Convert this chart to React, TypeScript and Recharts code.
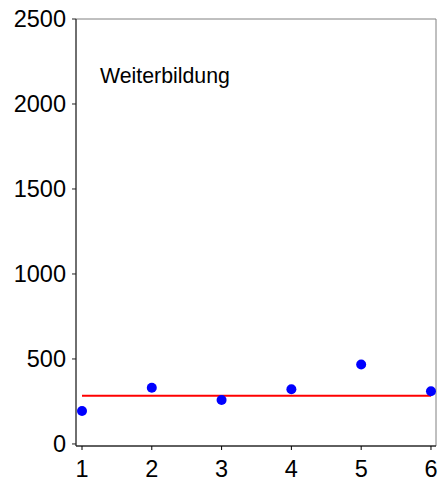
import React from 'react';
import * as Recharts from 'recharts';

const {
    ScatterChart,
    Scatter,
    XAxis,
    YAxis,
    ReferenceLine,
    ReferenceArea
} = Recharts;

// values
const periods = [1, 2, 3, 4, 5, 6];
const values = [194, 331, 259, 322, 467, 310];
const levelValue = 284;
const yTicks = [0, 500, 1000, 1500, 2000, 2500];
const xDomain = [0.914, 6.072];
const yDomain = [-12, 2500];
const panelLabel = 'Weiterbildung';

const points = periods.map((p, i) => ({ x: p, y: values[i] }));

const font = '"Liberation Sans", Arial, sans-serif';

const Dot = (props: any) => {
    const { cx, cy } = props;
    return <circle cx={cx} cy={cy} r={5} fill="#0000ff" />;
};

const App: React.FC = () => {
    return (
        <div style={{ position: 'absolute', left: 0, top: 0, width: 443, height: 481, background: '#fff', fontFamily: font }}>
            <ScatterChart width={443} height={481} margin={{ top: 19, right: 7, bottom: 0, left: 0 }}>
                <ReferenceArea
                    x1={xDomain[0]}
                    x2={xDomain[1]}
                    y1={yDomain[0]}
                    y2={yDomain[1]}
                    fill="none"
                    stroke="#808080"
                    strokeWidth={1}
                    ifOverflow="visible"
                />
                <XAxis
                    type="number"
                    dataKey="x"
                    domain={xDomain}
                    ticks={periods}
                    allowDataOverflow
                    height={35}
                    tickSize={4}
                    tickMargin={10}
                    stroke="#000"
                    tick={{ fill: '#000', fontSize: 23.5, fontFamily: font }}
                />
                <YAxis
                    type="number"
                    dataKey="y"
                    domain={yDomain}
                    ticks={yTicks}
                    allowDataOverflow
                    width={76}
                    tickSize={4}
                    tickMargin={6}
                    stroke="#202020"
                    tick={{ fill: '#000', fontSize: 23.5, fontFamily: font }}
                />
                <ReferenceLine
                    segment={[{ x: periods[0], y: levelValue }, { x: periods[periods.length - 1], y: levelValue }]}
                    stroke="#ff0000"
                    strokeWidth={2}
                />
                <Scatter data={points} shape={<Dot />} isAnimationActive={false} />
            </ScatterChart>
            <div style={{ position: 'absolute', left: 100, top: 66, fontSize: 21.3, lineHeight: 1, color: '#000' }}>
                {panelLabel}
            </div>
        </div>
    );
};

export default App;
